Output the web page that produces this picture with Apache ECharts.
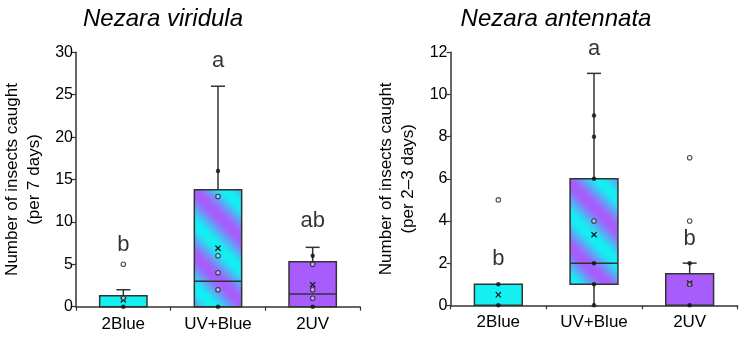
<!DOCTYPE html>
<html>
<head>
<meta charset="utf-8">
<script src="https://cdn.jsdelivr.net/npm/echarts@6/dist/echarts.min.js"></script>
<style>
html,body{margin:0;padding:0;background:#fff;}
#chart{width:744px;height:337px;}
</style>
</head>
<body>
<div id="chart"></div>
<script>
// ---- data ----
const categories = ['2Blue', 'UV+Blue', '2UV'];
const titles = ['Nezara viridula', 'Nezara antennata'];
const yNames = ['Number of insects caught\n(per 7 days)', 'Number of insects caught\n(per 2\u20133 days)'];

// box stats per category: [min, q1, median, q3, max]
const viridulaBox = [[0, 0, 0, 1.3, 2], [0, 0, 3, 13.8, 26], [0, 0, 1.5, 5.3, 7]];
const viridulaMean = [0.8, 6.9, 2.6];
// points: [categoryIndex, value]
const viridulaFilled = [[0, 0], [1, 0], [1, 16], [2, 0], [2, 6]];
const viridulaHollow = [[0, 1], [0, 5], [1, 2], [1, 4], [1, 6], [1, 13], [2, 1], [2, 2], [2, 5]];
const viridulaLetters = ['b', 'a', 'ab'];
const viridulaLetterY = [7.3, 29.0, 10.1];

const antennataBox = [[0, 0, 0, 1, 1], [0, 1, 2, 6, 11], [0, 0, 0, 1.5, 2]];
const antennataMean = [0.5, 3.35, 1.05];
const antennataFilled = [[0, 0], [0, 1], [1, 0], [1, 1], [1, 2], [1, 6], [1, 8], [1, 9], [2, 0], [2, 2]];
const antennataHollow = [[0, 5], [1, 4], [2, 1], [2, 4], [2, 7]];
const antennataLetters = ['b', 'a', 'b'];
const antennataLetterY = [2.18, 12.14, 3.13];

const yMax = [30, 12];
const yInterval = [5, 2];

// ---- styles ----
const CYAN = [20, 239, 242];
const PURPLE = [167, 92, 251];
const FONT = '"Liberation Sans", Arial, sans-serif';

function makePattern() {
  const S = 64;
  const c = document.createElement('canvas');
  c.width = S; c.height = S;
  const ctx = c.getContext('2d');
  const img = ctx.createImageData(S, S);
  for (let y = 0; y < S; y++) {
    for (let x = 0; x < S; x++) {
      const p = ((((x - y - 3) % S) + S) % S) / S;
      const t = 0.5 - 0.5 * Math.cos(2 * Math.PI * p);
      const k = (y * S + x) * 4;
      for (let j = 0; j < 3; j++) img.data[k + j] = Math.round(PURPLE[j] * (1 - t) + CYAN[j] * t);
      img.data[k + 3] = 255;
    }
  }
  ctx.putImageData(img, 0, 0);
  return c;
}
const patternCanvas = makePattern();
const rgb = a => 'rgb(' + a.join(',') + ')';
const boxFills = [rgb(CYAN), { type: 'pattern', image: patternCanvas, repeat: 'repeat' }, rgb(PURPLE)];

const LINE = '#333333';
const TXT = '#000';

function renderBox(params, api) {
  const i = api.value(0);
  const vmin = api.value(1), q1 = api.value(2), med = api.value(3), q3 = api.value(4), vmax = api.value(5), mean = api.value(6);
  const bw = api.size([1, 0])[0] * 0.5;
  const cx = api.coord([i, 0])[0];
  const Y = v => api.coord([i, v])[1];
  const ls = { stroke: LINE, lineWidth: 1.5 };
  const ch = [];
  if (vmax > q3) {
    ch.push({ type: 'line', shape: { x1: cx, y1: Y(q3), x2: cx, y2: Y(vmax) }, style: ls });
    ch.push({ type: 'line', shape: { x1: cx - 7, y1: Y(vmax), x2: cx + 7, y2: Y(vmax) }, style: ls });
  }
  if (vmin < q1) {
    ch.push({ type: 'line', shape: { x1: cx, y1: Y(q1), x2: cx, y2: Y(vmin) }, style: ls });
  }
  ch.push({
    type: 'rect',
    shape: { x: cx - bw / 2, y: Y(q3), width: bw, height: Y(q1) - Y(q3) },
    style: { fill: boxFills[i], stroke: LINE, lineWidth: 1.5 }
  });
  if (med > q1 && med < q3) {
    ch.push({ type: 'line', shape: { x1: cx - bw / 2, y1: Y(med), x2: cx + bw / 2, y2: Y(med) }, style: ls });
  }
  const my = Y(mean), d = 2.6;
  const xs = { stroke: '#111', lineWidth: 1.2 };
  ch.push({ type: 'line', z2: 10, shape: { x1: cx - d, y1: my - d, x2: cx + d, y2: my + d }, style: xs });
  ch.push({ type: 'line', z2: 10, shape: { x1: cx - d, y1: my + d, x2: cx + d, y2: my - d }, style: xs });
  return { type: 'group', children: ch };
}

function boxData(box, mean) {
  return box.map((b, i) => [i].concat(b).concat([mean[i]]));
}
function letterData(letters, ys) {
  return letters.map((l, i) => ({ name: l, value: [i, ys[i]] }));
}

const grids = [
  { left: 74, top: 52.3, width: 286, height: 254.4 },
  { left: 450.5, top: 52.3, width: 287, height: 253 }
];

const xAxes = [0, 1].map(g => ({
  type: 'category', gridIndex: g, data: categories,
  axisLine: { lineStyle: { color: LINE, width: 1.5 } },
  axisTick: { show: true, length: 4, lineStyle: { color: LINE, width: 1.2 } },
  axisLabel: { color: TXT, fontSize: 17, fontFamily: FONT, margin: 9 },
  splitLine: { show: false }
}));

const yAxes = [0, 1].map(g => ({
  type: 'value', gridIndex: g, min: 0, max: yMax[g], interval: yInterval[g],
  name: yNames[g], nameLocation: 'middle', nameRotate: 90, nameGap: 31,
  nameTextStyle: { color: TXT, fontSize: 17, fontFamily: FONT, lineHeight: 22 },
  axisLine: { show: true, lineStyle: { color: LINE, width: 1.5 } },
  axisTick: { show: true, length: 4, lineStyle: { color: LINE, width: 1.2 } },
  axisLabel: { color: TXT, fontSize: 16, fontFamily: FONT, margin: 3 },
  splitLine: { show: false }
}));

const sets = [
  { box: viridulaBox, mean: viridulaMean, filled: viridulaFilled, hollow: viridulaHollow, letters: viridulaLetters, ly: viridulaLetterY },
  { box: antennataBox, mean: antennataMean, filled: antennataFilled, hollow: antennataHollow, letters: antennataLetters, ly: antennataLetterY }
];

const series = [];
sets.forEach((s, g) => {
  series.push({
    type: 'custom', xAxisIndex: g, yAxisIndex: g, renderItem: renderBox,
    data: boxData(s.box, s.mean), z: 2, clip: false,
    encode: { x: 0, y: [1, 2, 3, 4, 5, 6] }
  });
  series.push({
    type: 'scatter', xAxisIndex: g, yAxisIndex: g, data: s.hollow, z: 5,
    symbol: 'circle', symbolSize: 4.5,
    itemStyle: { color: 'rgba(255,255,255,0.55)', borderColor: '#222', borderWidth: 1.1 },
    clip: false, silent: true
  });
  series.push({
    type: 'scatter', xAxisIndex: g, yAxisIndex: g, data: s.filled, z: 6,
    symbol: 'circle', symbolSize: 4.5,
    itemStyle: { color: '#111' },
    clip: false, silent: true
  });
  series.push({
    type: 'scatter', xAxisIndex: g, yAxisIndex: g, data: letterData(s.letters, s.ly), z: 7,
    symbolSize: 0, clip: false, silent: true,
    label: { show: true, position: 'inside', formatter: '{b}', color: TXT, fontSize: 22, fontFamily: FONT }
  });
});

const chart = echarts.init(document.getElementById('chart'), null, { renderer: 'canvas' });
chart.setOption({
  animation: false,
  backgroundColor: '#fff',
  title: [
    { text: titles[0], left: 163, top: 7, textAlign: 'center', padding: 0,
      textStyle: { fontStyle: 'italic', fontWeight: 'normal', fontSize: 24, color: TXT, fontFamily: FONT } },
    { text: titles[1], left: 556, top: 7, textAlign: 'center', padding: 0,
      textStyle: { fontStyle: 'italic', fontWeight: 'normal', fontSize: 24, color: TXT, fontFamily: FONT } }
  ],
  grid: grids,
  xAxis: xAxes,
  yAxis: yAxes,
  series: series
});
</script>
</body>
</html>
